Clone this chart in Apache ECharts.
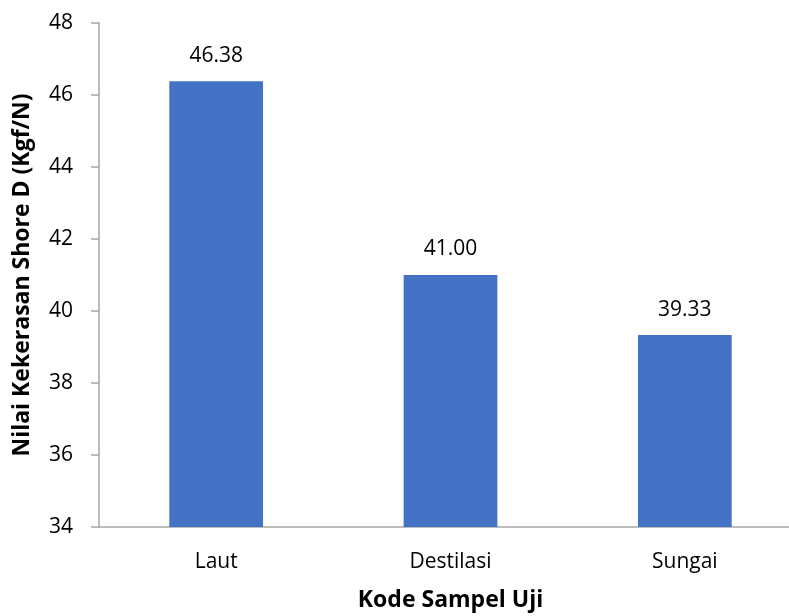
<!DOCTYPE html>
<html>
<head>
<meta charset="utf-8">
<script src="https://cdn.jsdelivr.net/npm/echarts@6/dist/echarts.min.js"></script>
<style>
  html, body { margin: 0; padding: 0; background: #fff; }
  #chart { width: 789px; height: 616px; }
</style>
</head>
<body>
<div id="chart"></div>
<script>
// Shore D hardness per sample source
const categories = ['Laut', 'Destilasi', 'Sungai'];
const hardness = [46.38, 41.00, 39.33];
const yTicks = { min: 34, max: 48, step: 2 };

const FONT = '"Open Sans", "Noto Sans", sans-serif';

const chart = echarts.init(document.getElementById('chart'));
chart.setOption({
  animation: false,
  grid: {
    left: 99, width: 703, top: 23, height: 504,
    containLabel: false, outerBoundsMode: 'none'
  },
  xAxis: {
    type: 'category',
    data: categories,
    name: 'Kode Sampel Uji',
    nameLocation: 'middle',
    nameGap: 62,
    nameTextStyle: { fontFamily: FONT, fontSize: 23, fontWeight: 'bold', color: '#000' },
    axisLine: { lineStyle: { color: '#A6A6A6', width: 1.5 } },
    axisTick: { show: false },
    axisLabel: { fontFamily: FONT, fontSize: 21, color: '#000', margin: 25 }
  },
  yAxis: {
    type: 'value',
    min: yTicks.min,
    max: yTicks.max,
    interval: yTicks.step,
    name: 'Nilai Kekerasan Shore D (Kgf/N)',
    nameLocation: 'middle',
    nameGap: 65,
    nameTextStyle: { fontFamily: FONT, fontSize: 23, fontWeight: 'bold', color: '#000' },
    axisLine: { show: true, lineStyle: { color: '#A6A6A6', width: 1.5 } },
    axisTick: { show: true, length: 8, lineStyle: { color: '#A6A6A6', width: 1.5 } },
    splitLine: { show: false },
    axisLabel: { fontFamily: FONT, fontSize: 21, color: '#000', margin: 26 }
  },
  series: [{
    type: 'bar',
    data: hardness,
    barWidth: '40%',
    itemStyle: { color: '#4472C4' },
    label: {
      show: true,
      position: 'top',
      distance: 15,
      fontFamily: FONT,
      fontSize: 21,
      color: '#000',
      formatter: p => p.value.toFixed(2)
    }
  }]
});
</script>
</body>
</html>
